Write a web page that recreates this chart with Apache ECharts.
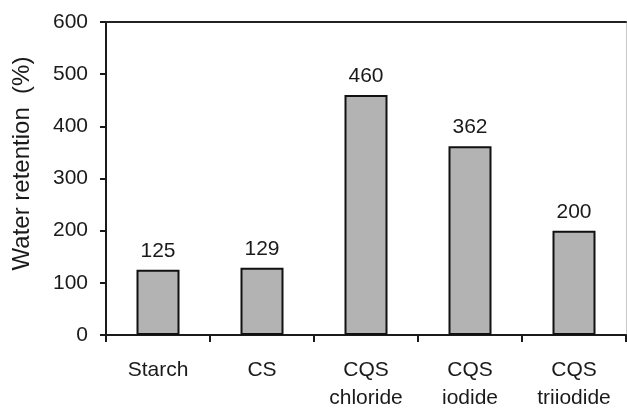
<!DOCTYPE html>
<html>
<head>
<meta charset="utf-8">
<script src="https://cdn.jsdelivr.net/npm/echarts@6/dist/echarts.min.js"></script>
<style>
  html, body { margin: 0; padding: 0; background: #fff; }
  #chart { width: 627px; height: 412px; }
</style>
</head>
<body>
<div id="chart"></div>
<script>
// Water retention of starch and its derivatives
const categories = ['Starch', 'CS', 'CQS\nchloride', 'CQS\niodide', 'CQS\ntriiodide'];
const retention = [125, 129, 460, 362, 200];
const yTicks = [0, 100, 200, 300, 400, 500, 600];

const font = '"Liberation Sans", Arial, sans-serif';
const ink = '#1a1a1a';

const chart = echarts.init(document.getElementById('chart'));
chart.setOption({
  animation: false,
  backgroundColor: '#fff',
  grid: { left: 106, right: 1, top: 22, bottom: 74 },
  xAxis: [{
    type: 'category',
    data: categories,
    axisLine: { lineStyle: { color: ink, width: 2 } },
    axisTick: { show: true, length: 7, lineStyle: { color: ink, width: 2 } },
    axisLabel: { color: ink, fontFamily: font, fontSize: 21, lineHeight: 28, margin: 21, interval: 0 }
  }, {
    // frame line along the top of the plot
    type: 'category',
    data: categories,
    position: 'top',
    axisLine: { show: true, onZero: false, lineStyle: { color: '#222', width: 2 } },
    axisTick: { show: false },
    axisLabel: { show: false }
  }],
  yAxis: [{
    type: 'value',
    min: yTicks[0],
    max: yTicks[yTicks.length - 1],
    interval: 100,
    name: 'Water retention  (%)',
    nameLocation: 'middle',
    nameGap: 72,
    nameTextStyle: { color: ink, fontFamily: font, fontSize: 24, padding: [0, 0, 0, 30] },
    splitLine: { show: false },
    axisLine: { show: true, lineStyle: { color: ink, width: 2 } },
    axisTick: { show: true, length: 6, lineStyle: { color: ink, width: 2 } },
    axisLabel: { color: ink, fontFamily: font, fontSize: 21, margin: 18 }
  }, {
    // light frame line on the right side
    type: 'value',
    min: yTicks[0],
    max: yTicks[yTicks.length - 1],
    interval: 100,
    position: 'right',
    splitLine: { show: false },
    axisLine: { show: true, onZero: false, lineStyle: { color: '#c8c8c8', width: 1 } },
    axisTick: { show: false },
    axisLabel: { show: false }
  }],
  series: [{
    type: 'bar',
    data: retention,
    barWidth: 43,
    itemStyle: { color: '#b3b3b3', borderColor: '#111', borderWidth: 2 },
    label: { show: true, position: 'top', distance: 8, color: ink, fontFamily: font, fontSize: 21 }
  }]
});
</script>
</body>
</html>
